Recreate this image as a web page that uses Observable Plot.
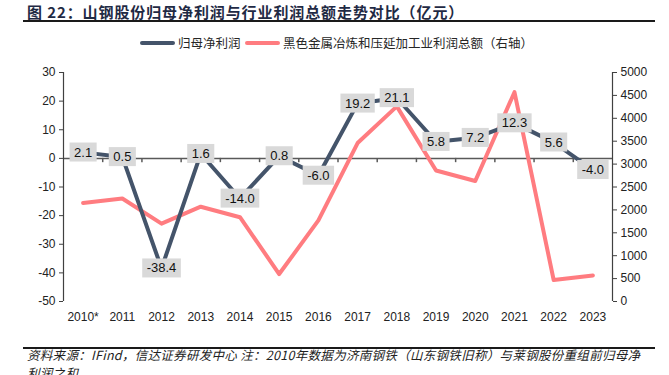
<!DOCTYPE html>
<html><head><meta charset="utf-8">
<script src="https://cdn.jsdelivr.net/npm/d3@7"></script>
<script src="https://cdn.jsdelivr.net/npm/@observablehq/plot@0.6"></script>
<style>
body{margin:0;background:#fff;}
#wrap{position:relative;width:669px;height:375px;overflow:hidden;font-family:"Noto Sans CJK SC",sans-serif;}
#title{position:absolute;left:27px;top:2px;font-size:15px;line-height:20px;font-weight:bold;letter-spacing:0.9px;color:#1f2a44;white-space:nowrap;}
.rule{position:absolute;left:23px;width:632px;height:2px;background:#1a1a1a;}
.sw{position:absolute;height:4px;width:35px;border-radius:2px;}
.lt{position:absolute;font-size:12.5px;line-height:16px;color:#262626;white-space:nowrap;}
#chart{position:absolute;left:0;top:60px;}
#foot{position:absolute;left:27px;top:346px;font-size:12.5px;line-height:18px;letter-spacing:0.3px;font-style:italic;color:#222;white-space:nowrap;}
</style></head><body>
<div id="wrap">
 <div id="title">图 22：山钢股份归母净利润与行业利润总额走势对比（亿元）</div>
 <div class="rule" style="top:20px"></div>
 <div class="sw" style="left:140px;top:41px;background:#44546a"></div>
 <div class="lt" style="left:178px;top:35px">归母净利润</div>
 <div class="sw" style="left:245px;top:41px;background:#ff7c80"></div>
 <div class="lt" style="left:283px;top:35px">黑色金属冶炼和压延加工业利润总额（右轴）</div>
 <div id="chart"></div>
 <div class="rule" style="top:347px"></div>
 <div id="foot">资料来源：IFind，信达证券研发中心 注：2010年数据为济南钢铁（山东钢铁旧称）与莱钢股份重组前归母净<br>利润之和</div>
</div>
<script>
const years = ["2010*","2011","2012","2013","2014","2015","2016","2017","2018","2019","2020","2021","2022","2023"];
const netProfit = [2.1,0.5,-38.4,1.6,-14.0,0.8,-6.0,19.2,21.1,5.8,7.2,12.3,5.6,-4.0];
const industryProfit = [2150,2250,1700,2070,1840,600,1770,3460,4260,2860,2630,4570,470,570];
const leftTicks = [30,20,10,0,-10,-20,-30,-40,-50];
const rightTicks = [0,500,1000,1500,2000,2500,3000,3500,4000,4500,5000];

const toLeft = v => -50 + v * 80 / 5000;
const fromLeft = d => String(Math.round((d + 50) * 5000 / 80));
const data = years.map((y, i) => ({i, year: y, np: netProfit[i], ip: industryProfit[i]}));

const chart = Plot.plot({
  width: 669, height: 270,
  marginTop: 12, marginBottom: 29, marginLeft: 63, marginRight: 57,
  style: {fontFamily: "'Liberation Sans', Arial, sans-serif", fontSize: "12px", color: "#222", background: "transparent"},
  x: {type: "linear", domain: [-0.5, 13.5]},
  y: {domain: [-50, 30]},
  marks: [
    Plot.ruleY([0], {stroke: "#595959", strokeWidth: 1.5}),
    Plot.ruleX(d3.range(0.5, 13, 1), {y1: 0, y2: -1.5, stroke: "#595959", strokeWidth: 1.5}),
    Plot.axisX({ticks: d3.range(14), tickFormat: i => years[i], tickSize: 0, tickPadding: 11, label: null}),
    Plot.axisY({anchor: "left", ticks: leftTicks, tickFormat: d => String(d), tickSize: 4, tickPadding: 4, label: null, stroke: "#404040"}),
    Plot.ruleX([-0.5], {stroke: "#404040", strokeWidth: 1.2}),
    Plot.axisY({anchor: "right", ticks: rightTicks.map(toLeft), tickFormat: fromLeft, tickSize: 4, tickPadding: 4, label: null, stroke: "#404040"}),
    Plot.ruleX([13.5], {stroke: "#404040", strokeWidth: 1.2}),
    Plot.line(data, {x: "i", y: d => toLeft(d.ip), stroke: "#ff7c80", strokeWidth: 4}),
    Plot.line(data, {x: "i", y: "np", stroke: "#44546a", strokeWidth: 4}),
    Plot.text(data, {x: "i", y: "np", text: d => d.np.toFixed(1), fontSize: 13, fill: "#111", ariaLabel: "vlabels"})
  ]
});
document.getElementById("chart").appendChild(chart);

// grey label boxes sized to each rendered value label
let texts = chart.querySelectorAll('g[aria-label="vlabels"] text');
if (!texts.length) texts = chart.querySelectorAll('g[aria-label="text"] text');
texts.forEach(t => {
  const b = t.getBBox();
  const r = document.createElementNS("http://www.w3.org/2000/svg", "rect");
  r.setAttribute("x", b.x - 4.5);
  r.setAttribute("y", b.y + b.height / 2 - 9.5);
  r.setAttribute("width", b.width + 9);
  r.setAttribute("height", 19);
  r.setAttribute("fill", "#d9d9d9");
  const tr = t.getAttribute("transform");
  if (tr) r.setAttribute("transform", tr);
  t.parentNode.insertBefore(r, t);
});
</script>
</body></html>
